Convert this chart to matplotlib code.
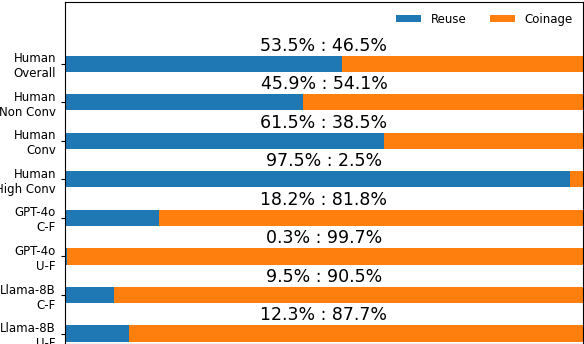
import matplotlib
matplotlib.use("Agg")
import matplotlib.pyplot as plt
import numpy as np

categories = ["Human\nOverall", "Human\nNon Conv", "Human\nConv", "Human\nHigh Conv",
              "GPT-4o\nC-F", "GPT-4o\nU-F", "Llama-8B\nC-F", "Llama-8B\nU-F"]
reuse = [53.5, 45.9, 61.5, 97.5, 18.2, 0.3, 9.5, 12.3]
coinage = [46.5, 54.1, 38.5, 2.5, 81.8, 99.7, 90.5, 87.7]

fig = plt.figure(figsize=(5.84, 3.44), dpi=100)
ax = fig.add_axes([65/584, 0.0, 518/584, 1 - 2/344])

y = np.arange(len(categories))
ax.barh(y, reuse, height=0.42, color="#1f77b4", label="Reuse")
ax.barh(y, coinage, left=reuse, height=0.42, color="#ff7f0e", label="Coinage")

for yi, r, c in zip(y, reuse, coinage):
    ax.text(50, yi - 0.47, f"{r}% : {c}%", ha="center", va="center", fontsize=12.5)

ax.set_yticks(y)
ax.set_yticklabels(categories, fontsize=8.5)
ax.set_xlim(0, 100)
ax.set_ylim(7.27, -1.6)
ax.set_xticks([])
ax.tick_params(axis="y", length=3)

ax.legend(loc="upper right", ncol=2, frameon=False, fontsize=8.5,
          handlelength=2.1, handleheight=0.55, handletextpad=0.8,
          columnspacing=2.0, bbox_to_anchor=(1.0, 1.0))

fig.savefig("out.png", dpi=100)
